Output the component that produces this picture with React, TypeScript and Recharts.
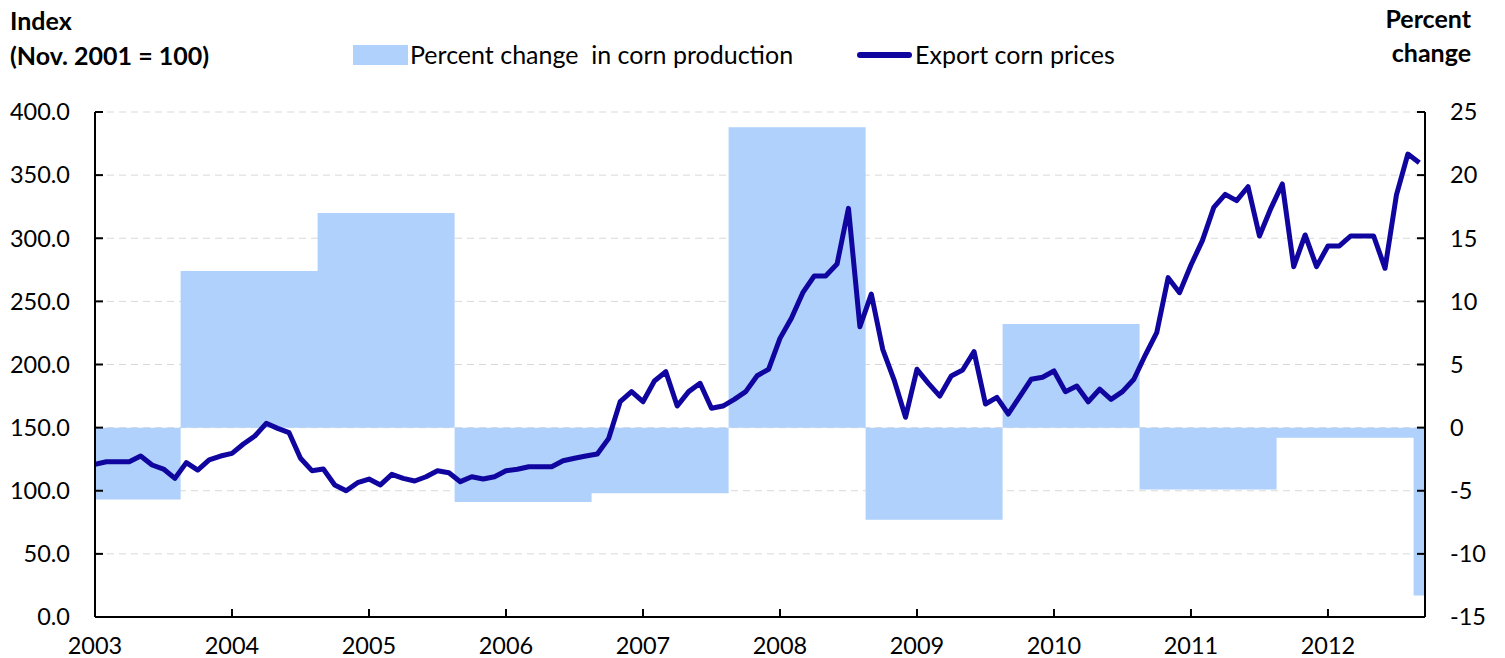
import React from 'react';
import { ComposedChart, Area, Line, XAxis, YAxis, CartesianGrid } from 'recharts';

const FONT = 'Lato, "Open Sans", sans-serif';

// x axis: month index, 0 = Jan 2003
const yearLabels = ['2003', '2004', '2005', '2006', '2007', '2008', '2009', '2010', '2011', '2012'];
const yearTicks = [0, 12, 24, 36, 48, 60, 72, 84, 96, 108];
const indexTicks = [0, 50, 100, 150, 200, 250, 300, 350, 400];
const pctTicks = [-15, -10, -5, 0, 5, 10, 15, 20, 25];

// Export corn prices, monthly Jan 2003 - Sep 2012 (Nov. 2001 = 100)
const exportPrices = [
  121, 123, 123, 123, 127.5, 120.4, 117.2, 109.8, 122.3, 116.4, 124.4, 127.5,
  129.6, 137, 143.4, 153.4, 149.4, 146, 125.7, 115.9, 117.2, 104.6, 100, 106.4,
  109.3, 104.6, 113, 109.8, 107.7, 111.1, 115.9, 114.3, 107.2, 111.1, 109.3, 111.1,
  115.9, 117, 119, 119, 119, 123.8, 125.7, 127.5, 129.1, 141.5, 170.5, 178.5,
  170.5, 186.9, 194.3, 167.1, 178.5, 185.1, 165.3, 167.1, 172.4, 178.5, 191.1, 196.2,
  220.7, 236.6, 256.9, 270.1, 270.1, 279.6, 323.7, 229.9, 255.8, 212, 187.7, 158.2,
  196.2, 185.1, 175, 190.9, 195.6, 210.2, 168.7, 174, 160.8, 174.5, 188.3, 189.9,
  194.9, 178.5, 183, 170.5, 180.4, 172.4, 178.5, 188.3, 207.5, 225.2, 268.8, 256.9,
  278.8, 298.1, 324.5, 334.8, 329.8, 340.8, 301.8, 323.7, 343, 277.5, 302.6, 277.5,
  293.9, 293.9, 301.8, 301.8, 301.8, 276.2, 334.3, 366.7, 359.8,
];

// Percent change in corn production by crop year (Sep - Aug)
const cropYears = ['2002/03', '2003/04', '2004/05', '2005/06', '2006/07', '2007/08', '2008/09', '2009/10', '2010/11', '2011/12', '2012/13'];
const productionChange = [-5.7, 12.4, 17.0, -5.9, -5.2, 23.8, -7.3, 8.2, -4.9, -0.8, -13.3];

const cropYearOf = (i: number) => (i < 8 ? 0 : Math.floor((i - 8) / 12) + 1);

const chartData: { i: number; price?: number; production: number }[] = exportPrices.map((p, i) => ({
  i,
  price: p,
  production: productionChange[cropYearOf(i)],
}));
// extend the last crop-year column to the end of the axis
chartData.push({ i: 116.5, production: productionChange[cropYears.length - 1] });

const axisStroke = { stroke: '#000', strokeWidth: 2 };
const tickStyle = { fill: '#000', fontSize: 23.5, fontFamily: FONT };

export default function App() {
  return (
    <div
      style={{
        position: 'absolute',
        left: 0,
        top: 0,
        width: 1505,
        height: 658,
        background: '#fff',
        fontFamily: FONT,
        color: '#000',
      }}
    >
      <ComposedChart
        width={1505}
        height={658}
        data={chartData}
        margin={{ top: 112, right: 10, bottom: 11, left: 10 }}
      >
        <CartesianGrid yAxisId="left" vertical={false} stroke="#d9d9d9" strokeDasharray="7 5" />
        <XAxis
          dataKey="i"
          type="number"
          domain={[0, 116.5]}
          ticks={yearTicks}
          interval={0}
          allowDataOverflow
          tickFormatter={(v: number) => yearLabels[Math.round(v / 12)]}
          height={30}
          tickSize={-8}
          tickMargin={28}
          axisLine={axisStroke}
          tickLine={axisStroke}
          tick={tickStyle}
        />
        <YAxis
          yAxisId="left"
          domain={[0, 400]}
          ticks={indexTicks}
          interval={0}
          width={85}
          tickFormatter={(v: number) => v.toFixed(1)}
          tickSize={-8}
          tickMargin={33}
          axisLine={axisStroke}
          tickLine={axisStroke}
          tick={tickStyle}
        />
        <YAxis
          yAxisId="right"
          orientation="right"
          domain={[-15, 25]}
          ticks={pctTicks}
          interval={0}
          width={70}
          tickSize={-8}
          tickMargin={33}
          axisLine={axisStroke}
          tickLine={axisStroke}
          tick={{ ...tickStyle, textAnchor: 'start' }}
        />
        <Area
          yAxisId="right"
          type="step"
          dataKey="production"
          baseValue={0}
          fill="#afd1fc"
          fillOpacity={1}
          stroke="none"
          isAnimationActive={false}
        />
        <Line
          yAxisId="left"
          type="linear"
          dataKey="price"
          stroke="#10069f"
          strokeWidth={5}
          strokeLinejoin="round"
          dot={false}
          isAnimationActive={false}
        />
      </ComposedChart>

      {/* axis titles */}
      <div style={{ position: 'absolute', left: 10, top: 6, fontSize: 25, fontWeight: 700, lineHeight: '28px' }}>
        Index
      </div>
      <div style={{ position: 'absolute', left: 10, top: 41, fontSize: 25, fontWeight: 700, lineHeight: '28px' }}>
        (Nov. 2001 = 100)
      </div>
      <div
        style={{
          position: 'absolute',
          right: 1505 - 1471,
          top: 4,
          fontSize: 25,
          fontWeight: 700,
          lineHeight: '28px',
          textAlign: 'right',
        }}
      >
        Percent
        <br />
        <span style={{ display: 'inline-block', marginTop: 6 }}>change</span>
      </div>

      {/* legend */}
      <div style={{ position: 'absolute', left: 353, top: 45, width: 55, height: 20, background: '#afd1fc' }} />
      <div style={{ position: 'absolute', left: 410, top: 40, fontSize: 25, lineHeight: '28px', whiteSpace: 'pre' }}>
        {'Percent change  in corn production'}
      </div>
      <div
        style={{ position: 'absolute', left: 857, top: 52, width: 55, height: 6, borderRadius: 3, background: '#10069f' }}
      />
      <div style={{ position: 'absolute', left: 915, top: 40, fontSize: 25, lineHeight: '28px', whiteSpace: 'pre' }}>
        Export corn prices
      </div>
    </div>
  );
}
